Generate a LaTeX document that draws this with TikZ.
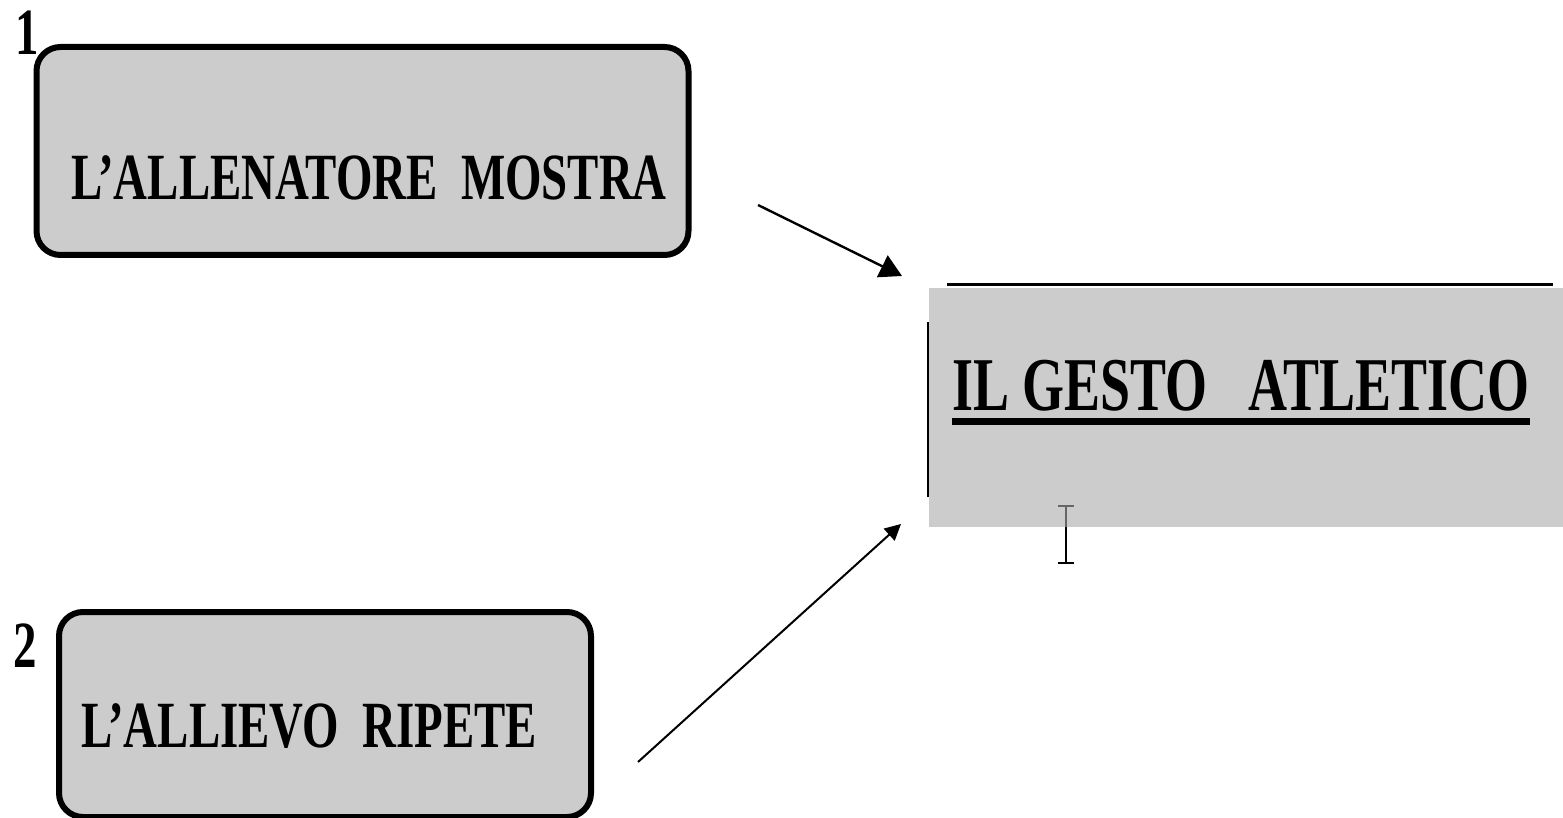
\documentclass[tikz,border=0pt]{standalone}
\usepackage{fontspec}
\usepackage{tikz}
\usetikzlibrary{arrows.meta,positioning,calc}
\newfontfamily\gestofont{Liberation Serif}[FakeStretch=0.71]
\definecolor{boxgray}{RGB}{204,204,204}
\tikzset{
  stepbox/.style={draw, line width=3pt, rounded corners=12pt, fill=boxgray},
  caption/.style={inner sep=0pt, font=\gestofont\bfseries\fontsize{33}{36}\selectfont},
  bigcaption/.style={inner sep=0pt, font=\gestofont\bfseries\fontsize{38}{42}\selectfont},
  flow/.style={-{Triangle[length=11pt, width=12pt]}, line width=1.2pt},
  thinflow/.style={-{Triangle[length=8pt, width=8pt]}, line width=1pt}
}
\begin{document}
\begin{tikzpicture}[x=0.5pt, y=-0.5pt]
\useasboundingbox (0,0) rectangle (1563,818);
% the two steps
\node[stepbox, minimum width=326pt, minimum height=104pt] (mostra) at (362.5,151) {};
\node[caption, anchor=base west] (mostratxt) at (71,200) {L’ALLENATORE\ \ MOSTRA};
\node[caption, anchor=base west] (uno) at (15,55) {1};
\node[stepbox, minimum width=266pt, minimum height=102.5pt] (ripete) at (325,714.5) {};
\node[caption, anchor=base west] (ripetetxt) at (81,747) {L’ALLIEVO\ \ RIPETE};
\node[caption, anchor=base west] (due) at (13,667) {2};
% the result
\node[fill=boxgray, minimum width=317pt, minimum height=119.5pt, inner sep=0pt] (gesto) at (1246,407.5) {};
\draw[line width=1.5pt] (947,285) -- (1553,285);
\draw[line width=1pt] (927.5,322) -- (927.5,497);
\node[bigcaption, anchor=base west] (gestotxt) at (952,410) {IL GESTO\ \ \ ATLETICO};
\draw[line width=3.5pt] ($(gestotxt.base west)+(0,11)$) -- ($(gestotxt.base east)+(0,11)$);
% cursor
\draw[line width=0.9pt, black!60] (1066,505) -- (1066,527);
\draw[line width=0.9pt] (1066,527) -- (1066,564);
\draw[line width=1.3pt, black!60] (1058,506) -- (1074,506);
\draw[line width=1.3pt] (1058,563) -- (1074,563);
% arrows
\coordinate (a1) at (758,205);
\coordinate (b1) at (902,276);
\coordinate (a2) at (638,762);
\coordinate (b2) at (901,524);
\draw[flow] (a1) -- (b1);
\draw[thinflow] (a2) -- (b2);
\end{tikzpicture}
\end{document}
